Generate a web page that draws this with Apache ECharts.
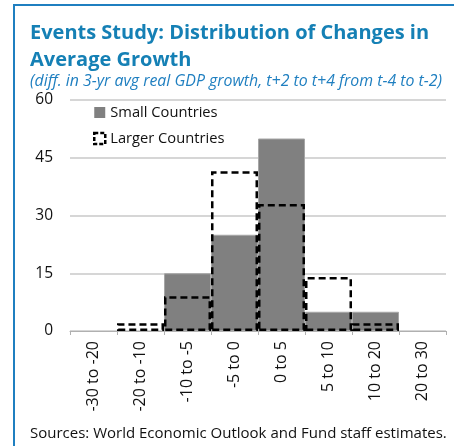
<!DOCTYPE html>
<html><head><meta charset="utf-8">
<script src="https://cdn.jsdelivr.net/npm/echarts@6/dist/echarts.min.js"></script>
<style>html,body{margin:0;padding:0;background:#fff}#c{width:454px;height:446px}</style>
</head><body><div id="c"></div>
<script>
const categories = ['-30 to -20','-20 to -10','-10 to -5','-5 to 0','0 to 5','5 to 10','10 to 20','20 to 30'];
const smallCountries = [0, 0, 15, 25, 50, 5, 5, 0];
const largerCountries = [0, 2, 9, 41.5, 33, 14, 2, 0];
const yTicks = [0, 15, 30, 45, 60];
const FONT = '"Open Sans", sans-serif';
const hideZero = arr => arr.map(v => (v === 0 ? '-' : v));
const chart = echarts.init(document.getElementById('c'));
chart.setOption({
  animation: false,
  textStyle: {fontFamily: FONT},
  graphic: [
    {type: 'polyline', shape: {points: [[14, 446], [14, 5], [454, 5]]}, style: {stroke: '#1f7fc0', lineWidth: 2, fill: null}}
  ],
  title: [
    {text: 'Events Study: Distribution of Changes in\nAverage Growth', left: 25, top: 15,
     textStyle: {fontFamily: FONT, fontWeight: 'bold', fontSize: 20, color: '#1580b5', lineHeight: 27}},
    {text: '(diff. in 3-yr avg real GDP growth, t+2 to t+4 from t-4 to t-2)', left: 25, top: 68,
     textStyle: {fontFamily: FONT, fontStyle: 'italic', fontWeight: 'normal', fontSize: 15.9, color: '#1f7fc0'}},
    {text: 'Sources: World Economic Outlook and Fund staff estimates.', left: 25, top: 421,
     textStyle: {fontFamily: FONT, fontWeight: 'normal', fontSize: 15, color: '#111'}}
  ],
  legend: {
    orient: 'vertical', left: 88, top: 100, itemGap: 11, itemWidth: 11, itemHeight: 11,
    textStyle: {fontFamily: FONT, fontSize: 14.7, color: '#111'},
    data: [
      {name: 'Small Countries', icon: 'rect', itemStyle: {borderWidth: 0}},
      {name: 'Larger Countries', icon: 'rect', itemStyle: {borderWidth: 2.5, borderType: [4, 2]}}
    ]
  },
  grid: {left: 70, right: 8, top: 100, bottom: 115},
  xAxis: {
    type: 'category', data: categories, boundaryGap: true,
    axisLine: {lineStyle: {color: '#b0b0b0', width: 1}},
    axisTick: {show: true, alignWithLabel: false, length: 4, lineStyle: {color: '#b0b0b0'}},
    axisLabel: {rotate: 90, fontFamily: FONT, fontSize: 16, color: '#111', margin: 10, interval: 0}
  },
  yAxis: {
    type: 'value', min: yTicks[0], max: yTicks[yTicks.length - 1], interval: yTicks[1] - yTicks[0],
    axisLine: {show: false}, axisTick: {show: false},
    axisLabel: {fontFamily: FONT, fontSize: 15.5, color: '#111', margin: 17},
    splitLine: {lineStyle: {color: '#c8c8c8', width: 1.5}}
  },
  series: [
    {name: 'Small Countries', type: 'bar', data: hideZero(smallCountries), barCategoryGap: 0, barGap: '-100%',
     itemStyle: {color: '#808080', borderColor: '#a6a6a6', borderWidth: 1}, z: 2},
    {name: 'Larger Countries', type: 'bar', data: hideZero(largerCountries), barCategoryGap: 0, barGap: '-100%',
     itemStyle: {color: 'rgba(0,0,0,0)', borderColor: '#000', borderWidth: 2.5, borderType: [7, 4]}, z: 3}
  ]
});
</script></body></html>
